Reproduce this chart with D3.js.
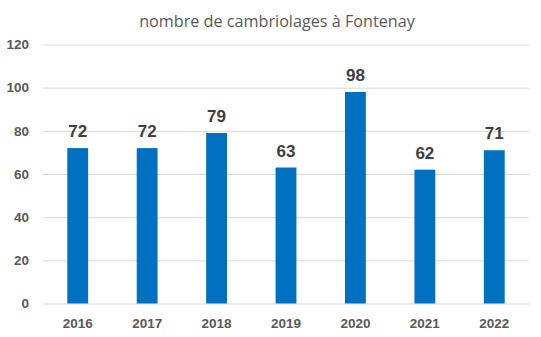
<!DOCTYPE html>
<html><head><meta charset="utf-8">
<script src="https://cdn.jsdelivr.net/npm/d3@7"></script>
<style>body{margin:0;background:#fff}svg{display:block}</style>
</head><body><svg id="c" width="541" height="337"></svg>
<script>
const categories = ["2016","2017","2018","2019","2020","2021","2022"];
const values = [72,72,79,63,98,62,71];
const yTicks = [0,20,40,60,80,100,120];
const title = "nombre de cambriolages à Fontenay";

(function(){
const svg = d3.select("#c");
const mLeft = 43, mRight = 529, mTop = 44.5, mBottom = 303.5;
const x = d3.scaleBand().domain(categories).range([mLeft,mRight]).paddingInner(0.7).paddingOuter(0.35);
const y = d3.scaleLinear().domain([0,120]).range([mBottom,mTop]);
const font = "'Liberation Sans', Arial, sans-serif";

svg.append("text").attr("x",277).attr("y",27).attr("text-anchor","middle")
  .attr("font-family","'Open Sans', sans-serif").attr("font-size",16.2).attr("fill","#595959").text(title);

const yAxis = d3.axisLeft(y).tickValues(yTicks).tickSize(-(mRight-mLeft)).tickPadding(14);
const gy = svg.append("g").attr("transform",`translate(${mLeft},0)`).call(yAxis);
gy.select(".domain").remove();
gy.selectAll(".tick line").attr("stroke","#d9d9d9").attr("stroke-width",1);
gy.selectAll(".tick text").attr("font-family",font).attr("font-weight","bold").attr("font-size",13.5).attr("fill","#595959");

const xAxis = d3.axisBottom(x).tickSize(0).tickPadding(15);
const gx = svg.append("g").attr("transform",`translate(0,${mBottom})`).call(xAxis);
gx.select(".domain").remove();
gx.selectAll(".tick text").attr("font-family",font).attr("font-weight","bold").attr("font-size",13.5).attr("fill","#595959");

svg.append("g").selectAll("rect").data(values).join("rect")
  .attr("x",(d,i)=>x(categories[i])).attr("width",x.bandwidth())
  .attr("y",d=>y(d)).attr("height",d=>mBottom-y(d)).attr("fill","#0070C0");

svg.append("g").selectAll("text").data(values).join("text")
  .attr("x",(d,i)=>x(categories[i])+x.bandwidth()/2).attr("y",d=>y(d)-11)
  .attr("text-anchor","middle").attr("font-family",font).attr("font-weight","bold")
  .attr("font-size",17).attr("fill","#404040").text(d=>d);
})();
</script></body></html>
